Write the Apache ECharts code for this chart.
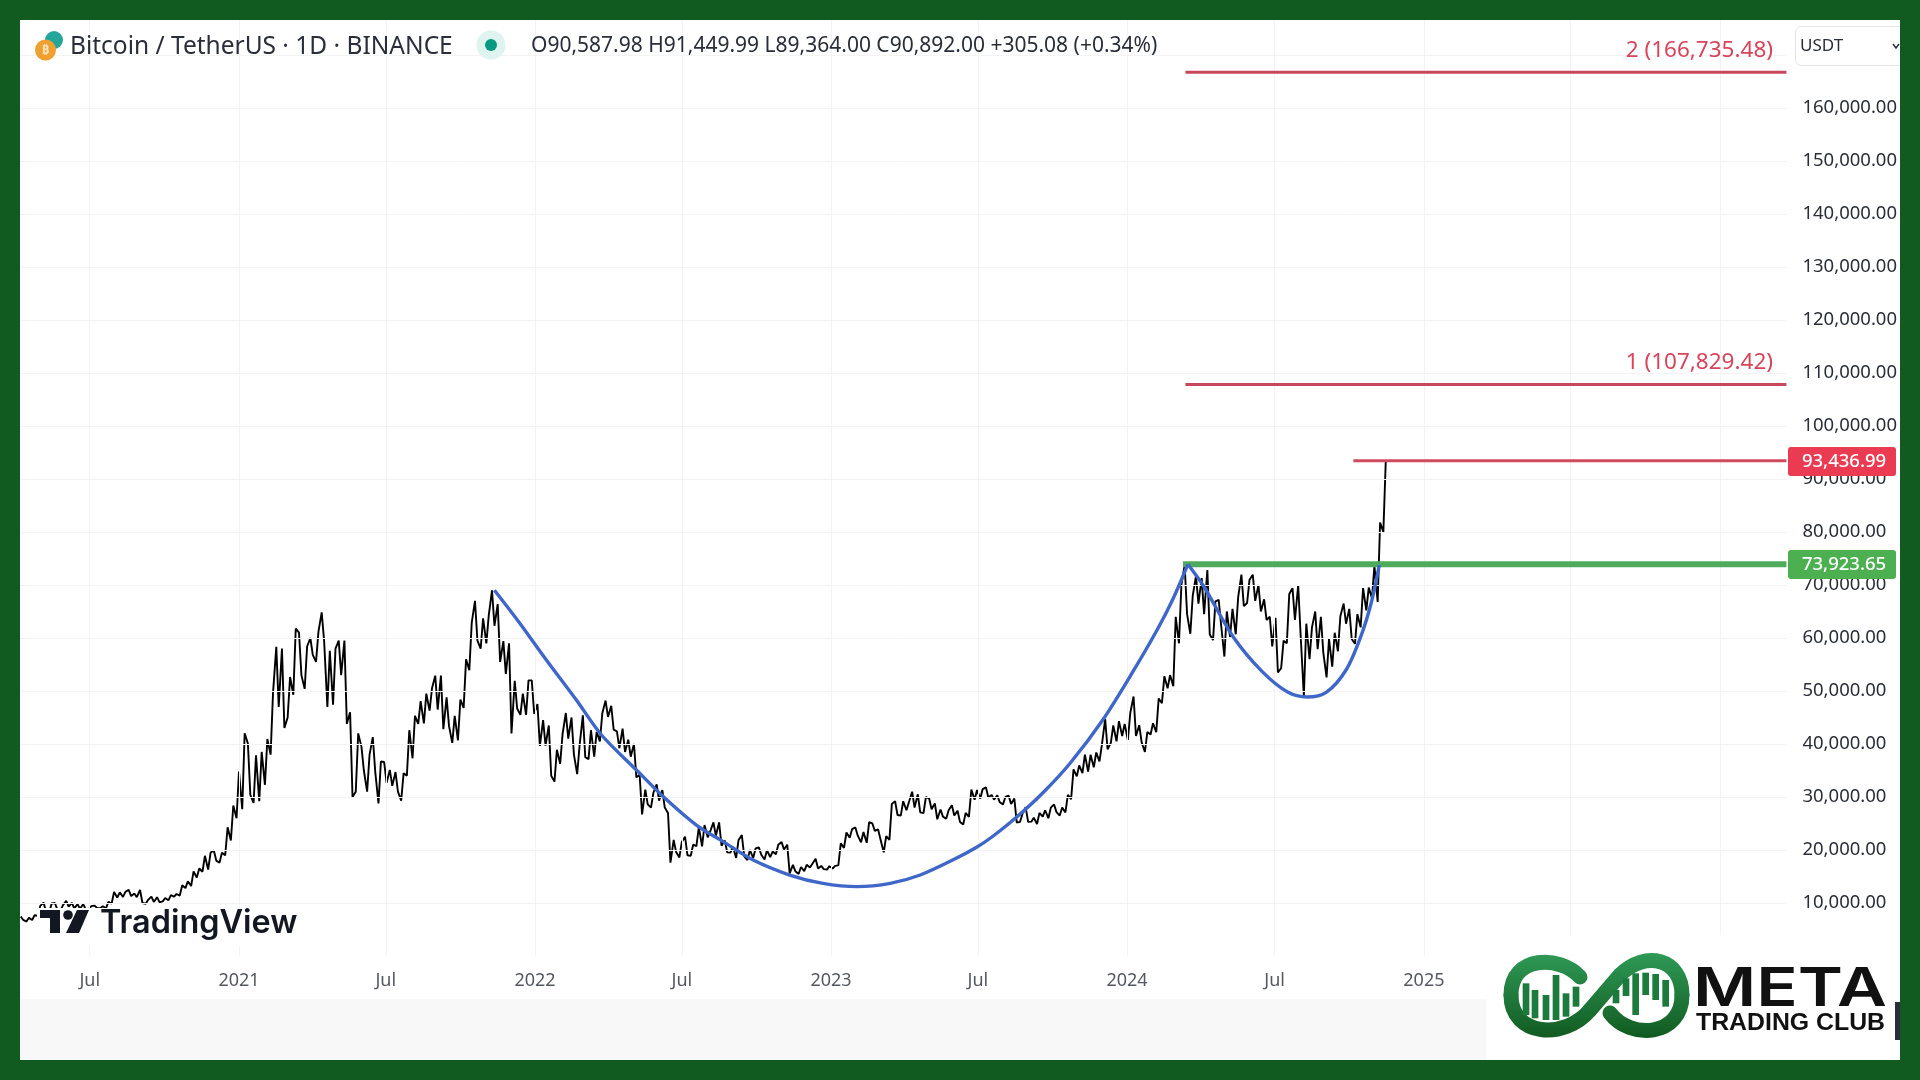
<!DOCTYPE html>
<html>
<head>
<meta charset="utf-8">
<title>Bitcoin / TetherUS</title>
<script src="https://cdn.jsdelivr.net/npm/echarts@6/dist/echarts.min.js"></script>
<style>
  html, body { margin: 0; padding: 0; background: #115a20; }
  #chart { position: absolute; left: 20px; top: 20px; width: 1880px; height: 1040px; background: #fff; overflow: hidden; }
</style>
</head>
<body>
<div id="chart"></div>
<script>
// week ranges, one row per calendar year, first week starts 2020-04-06
const firstWeek = '2020-04-06'
const weekLow = [
  6800,6500,6800,7600,8500,8100,8800,8600,9300,9000,8900,8800,8900,9050,9000,9000,9900,11000,11150,11300,11100,10000,9850,10200,10150,10300,10500,11200,11400,12800,13200,14800,15900,16300,18000,17600,19000,21800,26000,
  27700,30400,28900,29200,32300,38000,47000,43000,45000,49300,53000,50400,56800,55500,59400,47000,47400,53000,43800,30000,31000,35000,31000,34800,28800,32700,32100,31000,29300,34000,37300,43800,43900,46300,46500,42800,43370,40200,40700,46800,53900,59500,58000,59000,62300,55500,53200,42000,46700,45500,45500,45700,
  39650,39700,34000,32900,36250,41000,38000,34300,37500,37150,37600,40500,45100,42700,39200,38500,37600,33700,26700,28600,28000,29300,28000,17600,19600,18600,19000,18900,20750,20700,22400,22700,20800,19550,19500,18500,18800,18100,18500,19100,18200,18650,19200,20100,15600,16000,15480,16000,16700,16500,16400,16300,
  16500,17100,20400,22300,22700,21450,21350,23600,22000,19550,21900,26600,26500,27500,28000,27100,26950,27700,25800,26300,25900,26500,25300,24800,26250,29500,29700,29900,29500,29000,28600,28700,25150,25300,25300,25350,24900,26300,26000,27150,26500,27100,29600,33900,34500,34800,35600,36700,39000,40200,40500,41500,
  40750,41500,40300,38500,41800,42250,47700,50500,50900,59000,64500,60800,66500,64500,60660,59600,62400,56500,60200,60700,66000,66600,67000,65000,63400,58400,53500,54300,59000,63400,60600,49000,56000,57900,57200,52550,54600,57500,62700,59800,58900,62000,65200,67500,66800,80000
]
const weekHigh = [
  7450,7200,7700,9460,10070,9900,10000,9600,10400,10000,9800,9800,9400,9500,9400,10200,12100,12000,12100,12500,11800,12450,10600,11200,11100,10950,11500,11700,13350,14100,15950,16500,18900,19500,19900,19500,24300,28400,34800,
  42000,40100,37850,38500,40950,49700,58350,58000,52650,61800,61000,58400,60000,61200,64850,57600,58000,59500,59500,46000,42000,39500,38000,41300,36700,36600,35100,34700,34500,42600,45300,48100,49500,50500,52900,52900,48800,45300,48400,56000,62900,67000,63700,64300,69000,66400,59400,59000,51900,49500,52000,52000,
  47550,44500,43500,38900,41900,45850,45000,39800,45400,42600,42300,45800,48200,47200,42400,42900,40800,40000,34200,31400,30800,32400,31300,27000,21900,21500,22500,21000,24300,24700,23500,25200,25200,21800,20600,21900,22800,20000,20300,20500,19950,19700,21000,21500,21000,17200,16800,17200,17400,18350,17000,16950,
  17000,21250,23300,23950,24250,23400,25250,25000,23900,22600,28700,29200,29200,29000,31000,30500,30000,29700,28800,27650,27500,28450,27400,27000,31400,31300,31500,31800,30400,30300,30000,30250,29700,26800,28100,26100,27000,27500,28000,28600,28000,30400,35200,35950,38000,37950,38400,39900,44700,43500,44300,43800,
  45900,48970,43550,42250,43900,48600,52800,53000,64000,70000,73800,68000,71700,71300,72800,66900,67200,65000,65500,67700,71950,71000,71950,70000,67300,64000,63800,59500,68300,69400,70000,62700,62000,65000,64000,59800,61000,64100,66500,65500,64500,69400,69500,73600,81800,93437
]

// blue cup and handle
const cupDates = ['2021-11-12','2021-12-13','2022-01-15','2022-02-21','2022-03-24','2022-05-06','2022-06-10','2022-07-19','2022-08-21','2022-09-27','2022-11-11','2022-12-22','2023-02-02','2023-03-15','2023-04-21','2023-05-31','2023-06-30','2023-07-20','2023-08-18','2023-09-19','2023-10-23','2023-12-02','2024-01-08','2024-02-07','2024-02-26','2024-03-16']
const cupValues = [69000,62830,55850,48300,41700,35100,29800,24700,21570,18100,15280,13700,13080,13700,15280,18100,20570,22640,26220,30750,36420,44530,53590,61500,67170,73900]
const handleDates = ['2024-03-16','2024-04-05','2024-05-11','2024-06-16','2024-07-17','2024-08-10','2024-09-03','2024-09-27','2024-10-15','2024-10-28','2024-11-07']
const handleValues = [73900,69620,60190,53600,49800,48870,49800,53960,60190,66600,73780]

// price levels
const target2 = 166735.48
const target1 = 107829.42
const highLevel = 93436.99
const breakLevel = 73923.65
const targetStart = '2024-03-13'
const breakStart = '2024-03-10'
const highStart = '2024-10-06'

// axes
const xStart = '2020-04-06'
const xEnd = '2026-03-24'
const priceMax = 176600
const timeTicks = ['2020-07-01','2021-01-01','2021-07-01','2022-01-01','2022-07-01','2023-01-01','2023-07-01','2024-01-01','2024-07-01','2025-01-01','2025-07-01','2026-01-01']
const timeLabels = ['Jul','2021','Jul','2022','Jul','2023','Jul','2024','Jul','2025','','']
const priceTicks = [10000,20000,30000,40000,50000,60000,70000,80000,90000,100000,110000,120000,130000,140000,150000,160000]
const gridOnlyTicks = [170000]

const font = '"Noto Sans", sans-serif'
const stamp = (s) => new Date(s).getTime()
const day = 86400000

// each week goes low to high or high to low, depending on where the next week sits
const pricePoints = []
weekLow.forEach((lo, i) => {
  const t = stamp(firstWeek) + i * 7 * day
  const hi = weekHigh[i]
  const nextMid = i + 1 < weekLow.length ? (weekLow[i + 1] + weekHigh[i + 1]) / 2 : Infinity
  const up = nextMid > (lo + hi) / 2
  pricePoints.push([t + day, up ? lo : hi])
  pricePoints.push([t + 4 * day, up ? hi : lo])
})

const pairs = (dates, values) => dates.map((d, i) => [stamp(d), values[i]])
const level = (from, v) => [[stamp(from), v], [stamp(xEnd), v]]

const flat = (data, color, width) => ({
  type: 'line', data, showSymbol: false, silent: true, z: 5, animation: false,
  lineStyle: { color, width, cap: 'butt' }
})

// page coordinates minus the 20px frame
const txt = (x, y, text, size, fill, extra, stretch) => Object.assign({
  type: 'text', z: 120,
  style: Object.assign({ x: x - 20, y: y - 20, text, fontSize: size, fontFamily: font, fill, verticalAlign: 'middle' }, extra)
}, stretch ? { scaleX: stretch, originX: x - 20, originY: y - 20 } : {})
const box = (x, y, w, h, fill, r, extra) => Object.assign({
  type: 'rect', z: 110, shape: { x: x - 20, y: y - 20, width: w, height: h, r: r || 0 }, style: { fill }
}, extra)
const dot = (x, y, r, fill) => ({ type: 'circle', z: 115, shape: { cx: x - 20, cy: y - 20, r }, style: { fill } })

const logoGreen = new echarts.graphic.LinearGradient(0, 932, 0, 1019, [
  { offset: 0, color: '#2f9a57' }, { offset: 1, color: '#115a20' }
], true)
const logoStroke = { stroke: logoGreen, lineWidth: 15, fill: 'none', lineCap: 'round' }
const curve = (a, b, c, d) => ({
  type: 'bezierCurve', z: 115,
  shape: { x1: a[0] - 20, y1: a[1] - 20, cpx1: b[0] - 20, cpy1: b[1] - 20, cpx2: c[0] - 20, cpy2: c[1] - 20, x2: d[0] - 20, y2: d[1] - 20 },
  style: logoStroke
})

// logo bars as [zoomed x, top, bottom] of the club logo
const logoBars = [[368,310,405],[395,330,415],[428,345,420],[458,285,420],[488,340,410],[518,320,380],[638,330,370],[668,295,348],[697,280,405],[727,278,345],[757,282,360],[787,300,380]]

const decoration = [
  // grey footer and white patch behind the club logo
  box(20, 999, 1466, 61, '#f8f8f8'),
  box(1486, 935, 414, 125, '#fff'),
  box(1895, 1002, 5, 38, '#2a2e39', 0, { z: 125 }),

  // header
  dot(54, 40, 9, '#26a69a'),
  dot(45.5, 50, 10.5, '#f0a030'),
  txt(45.5, 50, '₿', 13, '#fbe3b8', { align: 'center', fontWeight: 'bold' }),
  txt(70, 47, 'Bitcoin / TetherUS · 1D · BINANCE', 24.5, '#2a2e39'),
  dot(491, 45, 14.5, '#dff3ef'),
  dot(491, 45, 6, '#089981'),
  txt(531, 46, 'O90,587.98 H91,449.99 L89,364.00 C90,892.00 +305.08 (+0.34%)', 21, '#2a2e39'),
  box(1795.5, 26.5, 110, 39, '#fff', 6, { style: { fill: '#fff', stroke: '#e6e6e6', lineWidth: 1 } }),
  txt(1800, 46, 'USDT', 17, '#2a2e39'),
  { type: 'polyline', z: 120, shape: { points: [[1873, 24], [1876, 28], [1879, 24]] }, style: { stroke: '#2a2e39', lineWidth: 1.5, fill: 'none' } },

  // annotation labels and price tags
  txt(1773, 51, '2 (166,735.48)', 22.5, '#d8445c', { align: 'right' }),
  txt(1773, 363, '1 (107,829.42)', 22.5, '#d8445c', { align: 'right' }),
  box(1788, 447, 108, 29, '#ea3b52', 3),
  txt(1844, 462, '93,436.99', 18.5, '#fff', { align: 'center', fontWeight: 500 }),
  box(1788, 550, 108, 29, '#4caf50', 3),
  txt(1844, 565, '73,923.65', 18.5, '#fff', { align: 'center', fontWeight: 500 }),

  // TradingView mark
  box(37, 908, 264, 38, '#fff', 0, { z: 105 }),
  box(40, 910, 20, 8, '#131722'),
  box(50, 910, 10, 23, '#131722'),
  dot(68, 915, 4.8, '#131722'),
  { type: 'polygon', z: 115, shape: { points: [[66, 933], [77, 910], [89, 910], [79, 933]].map(p => [p[0] - 20, p[1] - 20]) }, style: { fill: '#131722' } },
  txt(100, 923, 'TradingView', 32.4, '#131722', { fontFamily: 'Inter, sans-serif', fontWeight: 600 }),

  // club logo
  curve([1580, 977], [1560, 955], [1511, 955], [1511, 995]),
  curve([1511, 995], [1511, 1037], [1565, 1040], [1590, 1010]),
  { type: 'line', z: 115, shape: { x1: 1590 - 20, y1: 1010 - 20, x2: 1620 - 20, y2: 975 - 20 }, style: logoStroke },
  curve([1620, 975], [1645, 950], [1682, 958], [1682, 995]),
  curve([1682, 995], [1682, 1037], [1630, 1040], [1610, 1013]),
  ...logoBars.map(b => box(1400 + b[0] / 3, 880 + b[1] / 3, 6.7, (b[2] - b[1]) / 3, '#1b7a3c', 0, { z: 116 })),
  txt(1693, 990, 'META', 54, '#111', { fontFamily: 'Inter, sans-serif', fontWeight: 600 }, 1.27),
  txt(1696, 1024, 'TRADING CLUB', 23, '#111', { fontFamily: '"Liberation Sans", sans-serif', fontWeight: 'bold' }, 1.08)
]

const gridLine = { color: '#f3f3f3', width: 1, type: 'solid' }

const chart = echarts.init(document.getElementById('chart'))
chart.setOption({
  animation: false,
  backgroundColor: '#fff',
  grid: { left: 0, right: 113, top: 0, bottom: 104 },
  xAxis: {
    type: 'time',
    min: stamp(xStart),
    max: stamp(xEnd),
    axisLine: { show: false },
    axisTick: { show: false },
    splitLine: { show: false },
    axisLabel: { show: false }
  },
  yAxis: {
    type: 'value',
    position: 'right',
    min: 0,
    max: priceMax,
    interval: 10000,
    axisLine: { show: false },
    axisTick: { show: false },
    splitLine: { show: false },
    axisLabel: {
      customValues: priceTicks,
      margin: 16,
      fontSize: 18.5,
      fontFamily: font,
      color: '#2a2e39',
      formatter: (v) => v.toLocaleString('en-US', { minimumFractionDigits: 2 })
    }
  },
  series: [
    {
      // grid lines only
      type: 'line', data: [], z: 1, silent: true,
      markLine: {
        silent: true, animation: false, symbol: 'none', label: { show: false }, lineStyle: gridLine,
        data: [
          ...priceTicks.concat(gridOnlyTicks).map(v => ({ yAxis: v })),
          ...timeTicks.map(t => ({ xAxis: stamp(t) }))
        ]
      }
    },
    {
      // time labels sit under the zero line, the axis cannot place them on custom dates
      type: 'scatter', symbolSize: 0, silent: true, z: 2,
      data: timeTicks.map((t, i) => ({ value: [stamp(t), 0], label: { formatter: timeLabels[i] } })),
      label: { show: true, position: 'bottom', distance: 16, fontSize: 18, fontFamily: font, color: '#2a2e39' }
    },
    {
      type: 'line', data: pricePoints, showSymbol: false, silent: true, z: 3,
      lineStyle: { color: '#000', width: 1.9 }
    },
    flat(level(targetStart, target2), '#c7475c', 3),
    flat(level(targetStart, target1), '#c7475c', 3),
    flat(level(highStart, highLevel), '#cf4a5e', 3),
    flat(level(breakStart, breakLevel), '#4fab5c', 6),
    {
      type: 'line', data: pairs(cupDates, cupValues), smooth: 0.3, showSymbol: false, silent: true, z: 6,
      lineStyle: { color: '#3f66c9', width: 3.4 }
    },
    {
      type: 'line', data: pairs(handleDates, handleValues), smooth: 0.3, showSymbol: false, silent: true, z: 6,
      lineStyle: { color: '#3f66c9', width: 3.4 }
    }
  ],
  graphic: { elements: decoration }
})
</script>
</body>
</html>
